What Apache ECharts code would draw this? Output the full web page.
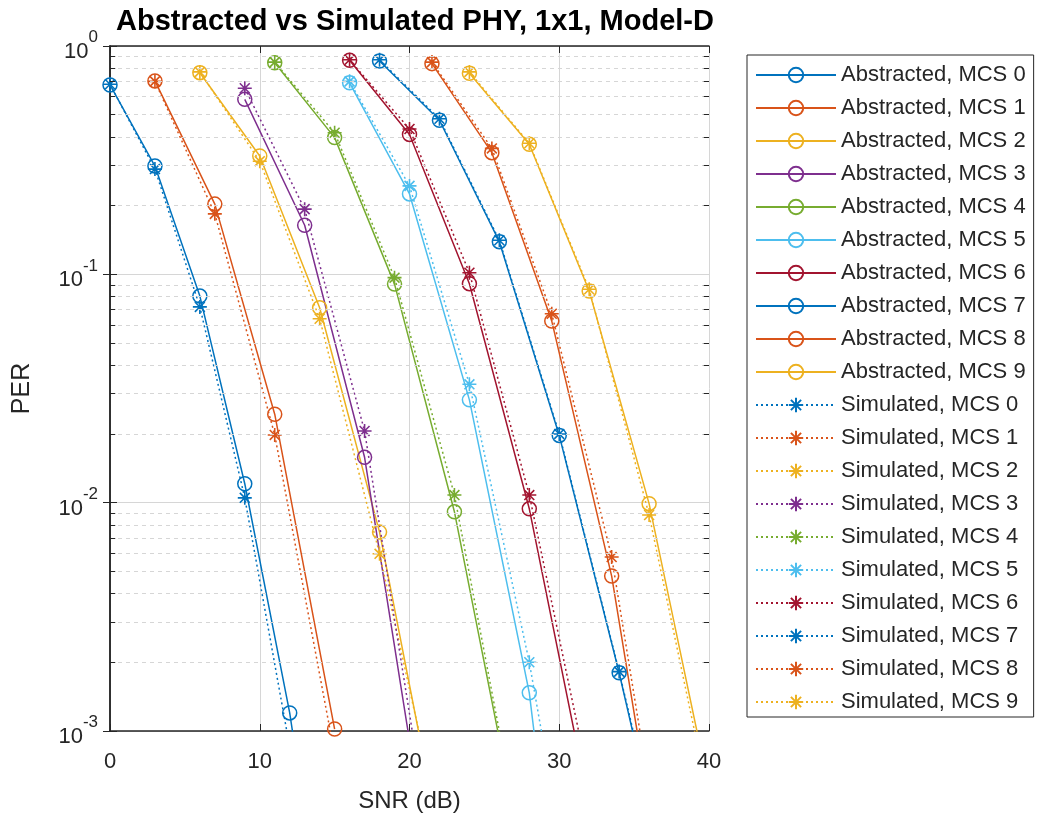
<!DOCTYPE html>
<html>
<head>
<meta charset="utf-8">
<script src="https://cdn.jsdelivr.net/npm/echarts@6/dist/echarts.min.js"></script>
<style>
html,body{margin:0;padding:0;background:#fff;}
#chart{width:1049px;height:821px;}
</style>
</head>
<body>
<div id="chart"></div>
<script>
// ---- Data ----
const snr0 = [0, 3, 6, 9, 12, 15];
const abs0 = [0.675, 0.298, 0.0803, 0.0121, 0.0012, 6e-5];
const sim0 = [0.68, 0.289, 0.072, 0.0105, 8.5e-4, 5e-5];

const snr1 = [3, 7, 11, 15];
const abs1 = [0.703, 0.203, 0.0244, 1.02e-3];
const sim1 = [0.70, 0.184, 0.0198, 7.9e-4];

const snr2 = [6, 10, 14, 18, 22];
const abs2 = [0.764, 0.330, 0.0714, 7.43e-3, 3.4e-4];
const sim2 = [0.77, 0.313, 0.0639, 5.97e-3, 3.9e-4];

const snr3 = [9, 13, 17, 21];
const abs3 = [0.584, 0.164, 0.0158, 3.5e-4];
const sim3 = [0.653, 0.193, 0.0206, 4.6e-4];

const snr4 = [11, 15, 19, 23, 27];
const abs4 = [0.845, 0.397, 0.0906, 9.12e-3, 4.3e-4];
const sim4 = [0.85, 0.417, 0.0967, 0.0108, 4.5e-4];

const snr5 = [16, 20, 24, 28, 32];
const abs5 = [0.69, 0.225, 0.0282, 1.47e-3, 1e-5];
const sim5 = [0.70, 0.244, 0.033, 2.0e-3, 6.4e-5];

const snr6 = [16, 20, 24, 28, 32];
const abs6 = [0.866, 0.41, 0.091, 9.4e-3, 4.7e-4];
const sim6 = [0.87, 0.433, 0.1016, 0.0108, 6e-4];

const snr7 = [18, 22, 26, 30, 34, 38];
const abs7 = [0.86, 0.473, 0.139, 0.0197, 1.8e-3, 1.3e-4];
const sim7 = [0.87, 0.48, 0.141, 0.020, 1.82e-3, 1.4e-4];

const snr8 = [21.5, 25.5, 29.5, 33.5, 37.5];
const abs8 = [0.837, 0.341, 0.0624, 4.77e-3, 1.2e-4];
const sim8 = [0.85, 0.356, 0.0672, 5.78e-3, 1.4e-4];

const snr9 = [24, 28, 32, 36, 40];
const abs9 = [0.76, 0.371, 0.0845, 9.9e-3, 5.6e-4];
const sim9 = [0.77, 0.375, 0.086, 8.83e-3, 5.0e-4];

const mcsList = [0, 1, 2, 3, 4, 5, 6, 7, 8, 9];
const xTicks = [0, 10, 20, 30, 40];
const yMinorValues = [2e-3,3e-3,4e-3,5e-3,6e-3,7e-3,8e-3,9e-3,
                      2e-2,3e-2,4e-2,5e-2,6e-2,7e-2,8e-2,9e-2,
                      2e-1,3e-1,4e-1,5e-1,6e-1,7e-1,8e-1,9e-1];

const titleText = 'Abstracted vs Simulated PHY, 1x1, Model-D';
const xName = 'SNR (dB)';
const yName = 'PER';

// ---- Styling ----
const colors = ['#0072BD','#D95319','#EDB120','#7E2F8E','#77AC30','#4DBEEE','#A2142F','#0072BD','#D95319','#EDB120'];
const FONT = 'Liberation Sans, Arial, Helvetica, sans-serif';
const TXT = '#262626';
const asterisk = 'path://M5,0L5,10M0,5L10,5M1.46,1.46L8.54,8.54M1.46,8.54L8.54,1.46';

const snrs = [snr0,snr1,snr2,snr3,snr4,snr5,snr6,snr7,snr8,snr9];
const absV = [abs0,abs1,abs2,abs3,abs4,abs5,abs6,abs7,abs8,abs9];
const simV = [sim0,sim1,sim2,sim3,sim4,sim5,sim6,sim7,sim8,sim9];

function pairs(xs, ys){ return xs.map((x,i)=>[x, ys[i]]); }

const series = [];
// helper series for minor grid and minor ticks
const minorGrid = yMinorValues.map(v => [{coord:[0, v]}, {coord:[40, v]}]);
const minorTicksL = yMinorValues.map(v => [{coord:[0, v]}, {coord:[0.35, v]}]);
const minorTicksR = yMinorValues.map(v => [{coord:[39.65, v]}, {coord:[40, v]}]);
series.push({
  type:'line', data:[], silent:true, z:1, legendHoverLink:false,
  markLine:{ silent:true, symbol:['none','none'], label:{show:false}, animation:false,
    lineStyle:{color:'#d6d6d6', width:1, type:[4,4]}, data: minorGrid }
});
series.push({
  type:'line', data:[], silent:true, z:5,
  markLine:{ silent:true, symbol:['none','none'], label:{show:false}, animation:false,
    lineStyle:{color:TXT, width:1, type:'solid'}, data: minorTicksL.concat(minorTicksR) }
});

mcsList.forEach(m => {
  series.push({
    name:'Abstracted, MCS ' + m, type:'line', z:3,
    data: pairs(snrs[m], absV[m]),
    symbol:'circle', symbolSize:14, showAllSymbol:true,
    lineStyle:{color:colors[m], width:1.5, type:'solid'},
    itemStyle:{color:'none', borderColor:colors[m], borderWidth:1.5},
    emphasis:{disabled:true}, animation:false
  });
});
mcsList.forEach(m => {
  series.push({
    name:'Simulated, MCS ' + m, type:'line', z:3,
    data: pairs(snrs[m], simV[m]),
    symbol:asterisk, symbolSize:14, showAllSymbol:true,
    lineStyle:{color:colors[m], width:1.5, type:[2,3]},
    itemStyle:{color:'none', borderColor:colors[m], borderWidth:1.6},
    emphasis:{disabled:true}, animation:false
  });
});

const legendNames = mcsList.map(m => 'Abstracted, MCS ' + m).concat(mcsList.map(m => 'Simulated, MCS ' + m));

const chart = echarts.init(document.getElementById('chart'), null, {renderer:'canvas'});
chart.setOption({
  backgroundColor:'#fff',
  animation:false,
  color: colors,
  title:{ text:titleText, left:410, top:2, textAlign:'center',
    textStyle:{fontFamily:FONT, fontSize:29, fontWeight:'bold', color:'#000'} },
  grid:{ left:110, right:340, top:46, bottom:90, containLabel:false },
  legend:{ orient:'vertical', left:747, top:55, padding:[9,8,4,8],
    itemWidth:80, itemHeight:18, itemGap:11,
    borderColor:TXT, borderWidth:1, backgroundColor:'#fff',
    selectedMode:false,
    textStyle:{fontFamily:FONT, fontSize:22, color:TXT, lineHeight:22},
    data: legendNames },
  xAxis:[{
    type:'value', min:xTicks[0], max:xTicks[xTicks.length-1], interval:10,
    name:xName, nameLocation:'middle', nameGap:58,
    nameTextStyle:{fontFamily:FONT, fontSize:24, color:TXT},
    axisLine:{show:true, lineStyle:{color:TXT, width:1.5}},
    axisTick:{show:true, inside:true, length:7, lineStyle:{color:TXT}},
    axisLabel:{fontFamily:FONT, fontSize:22, color:TXT, margin:20},
    splitLine:{show:true, lineStyle:{color:'#d6d6d6', width:1}}
  },{
    type:'value', position:'top', min:0, max:40, interval:10,
    axisLine:{show:true, lineStyle:{color:TXT, width:1.5}},
    axisTick:{show:true, inside:true, length:7, lineStyle:{color:TXT}},
    axisLabel:{show:false}, splitLine:{show:false}
  }],
  yAxis:[{
    type:'log', logBase:10, min:0.001, max:1,
    name:yName, nameLocation:'middle', nameGap:75, nameRotate:90,
    nameTextStyle:{fontFamily:FONT, fontSize:25, color:TXT},
    axisLine:{show:true, lineStyle:{color:TXT, width:1.5}},
    axisTick:{show:true, inside:true, length:7, lineStyle:{color:TXT}},
    axisLabel:{ margin:12, color:TXT,
      formatter: function(v){ const e = Math.round(Math.log10(v)); return '{b|10}{s|' + e + '}'; },
      rich:{ b:{fontFamily:FONT, fontSize:22, color:TXT, padding:[12,0,0,0]},
             s:{fontFamily:FONT, fontSize:17, color:TXT, verticalAlign:'top'} } },
    splitLine:{show:true, lineStyle:{color:'#d6d6d6', width:1}}
  },{
    type:'log', logBase:10, min:0.001, max:1, position:'right',
    axisLine:{show:true, lineStyle:{color:TXT, width:1.5}},
    axisTick:{show:true, inside:true, length:7, lineStyle:{color:TXT}},
    axisLabel:{show:false}, splitLine:{show:false}
  }],
  series: series
});
</script>
</body>
</html>
